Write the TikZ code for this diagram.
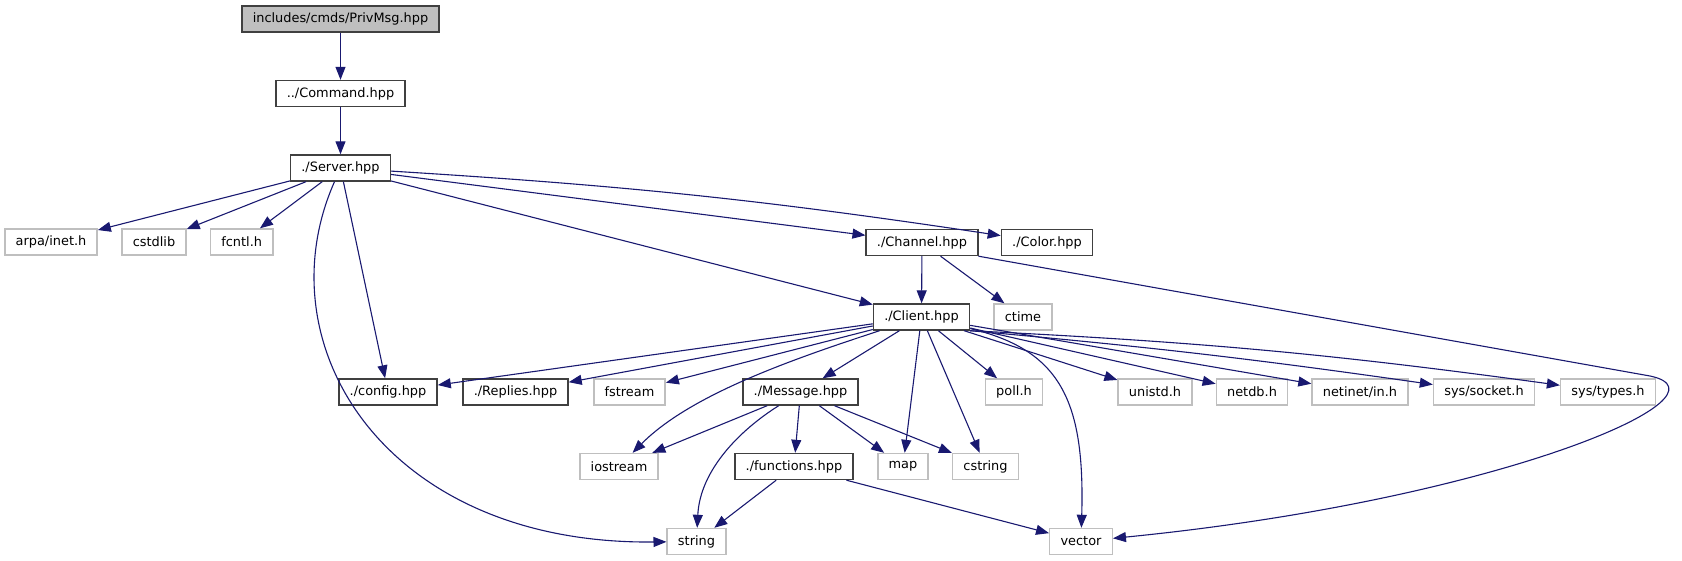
\documentclass[tikz,border=0pt]{standalone}
\usepackage{fontspec}
\setmainfont{DejaVu Sans}
\usetikzlibrary{arrows.meta}

\definecolor{edgeblue}{HTML}{191970}
\definecolor{sysgray}{HTML}{BFBFBF}
\definecolor{hdrgray}{HTML}{404040}

\begin{document}
\begin{tikzpicture}[
    x=1pt, y=-1pt,
    hdr/.style={draw=hdrgray, line width=1.4pt, fill=white, inner xsep=10.8pt, inner ysep=0pt, minimum height=26pt, font=\fontsize{12.9}{14}\selectfont},
    sys/.style={hdr, draw=sysgray},
    root/.style={hdr, fill=sysgray},
    inc/.style={-{Triangle[length=13pt,width=10pt]}, draw=edgeblue, line width=1.1pt},
]
\useasboundingbox (0,0) rectangle (1682,560);

\node[root] (privmsg) at (340.5,19) {includes/cmds/PrivMsg.hpp};
\node[hdr] (command) at (340.5,93.5) {../Command.hpp};
\node[hdr] (server) at (340.5,168) {./Server.hpp};

\node[sys] (arpa) at (51,242) {arpa/inet.h};
\node[sys] (cstdlib) at (154,242) {cstdlib};
\node[sys] (fcntl) at (241.7,242) {fcntl.h};
\node[hdr] (channel) at (922,242.5) {./Channel.hpp};
\node[hdr] (color) at (1047,242.5) {./Color.hpp};

\node[hdr] (client) at (921.5,317) {./Client.hpp};
\node[sys] (ctime) at (1023,317) {ctime};

\node[hdr] (config) at (388,392) {./config.hpp};
\node[hdr] (replies) at (515.5,392) {./Replies.hpp};
\node[sys] (fstream) at (629.5,392) {fstream};
\node[hdr] (message) at (800.5,392) {./Message.hpp};
\node[sys] (poll) at (1014,392) {poll.h};
\node[sys] (unistd) at (1155,392) {unistd.h};
\node[sys] (netdb) at (1252,392) {netdb.h};
\node[sys] (netinet) at (1360,392) {netinet/in.h};
\node[sys] (socket) at (1484,392) {sys/socket.h};
\node[sys] (types) at (1608,392) {sys/types.h};

\node[sys] (iostream) at (619,466.5) {iostream};
\node[hdr] (functions) at (794,466.5) {./functions.hpp};
\node[sys] (map) at (903,466.5) {map};
\node[sys] (cstring) at (985.5,466.5) {cstring};

\node[sys] (string) at (696.5,541.5) {string};
\node[sys] (vector) at (1081,541.5) {vector};

\draw[inc] (privmsg) -- (command);
\draw[inc] (command) -- (server);

% Server.hpp
\draw[inc] (server) -- (arpa);
\draw[inc] (server) -- (cstdlib);
\draw[inc] (server) -- (fcntl);
\draw[inc] (server) -- (config);
\draw[inc] ([xshift=-6pt]server.south) .. controls (262,345) and (385,545) .. (string);
\draw[inc] (server) -- (client);
\draw[inc] (server) -- (channel);
\draw[inc] (server) to[bend left=2.5] (color);

% Channel.hpp
\draw[inc] (channel) -- (client);
\draw[inc] (channel) -- (ctime);
\draw[inc] (channel.south east) -- (1650,376) .. controls (1740,395) and (1500,500) .. (vector);

% Client.hpp
\draw[inc] (client) -- (config);
\draw[inc] (client) -- (replies);
\draw[inc] (client) -- (fstream);
\draw[inc] (client) .. controls (790,360) and (690,395) .. (iostream);
\draw[inc] (client) -- (message);
\draw[inc] (client) -- (map);
\draw[inc] (client) -- (cstring);
\draw[inc] (client) -- (poll);
\draw[inc] (client) .. controls (1060,350) and (1085,400) .. (vector);
\draw[inc] (client) -- (unistd);
\draw[inc] (client) -- (netdb);
\draw[inc] (client) -- (netinet);
\draw[inc] (client.south east) to[bend left=1.5] (socket);
\draw[inc] (client.south east) to[bend left=2.5] (types);

% Message.hpp
\draw[inc] (message) -- (iostream);
\draw[inc] (message) .. controls (740,430) and (700,470) .. (string);
\draw[inc] (message) -- (functions);
\draw[inc] (message) -- (map);
\draw[inc] (message) -- (cstring);

% functions.hpp
\draw[inc] (functions) -- (string);
\draw[inc] (functions) -- (vector);
\end{tikzpicture}
\end{document}
